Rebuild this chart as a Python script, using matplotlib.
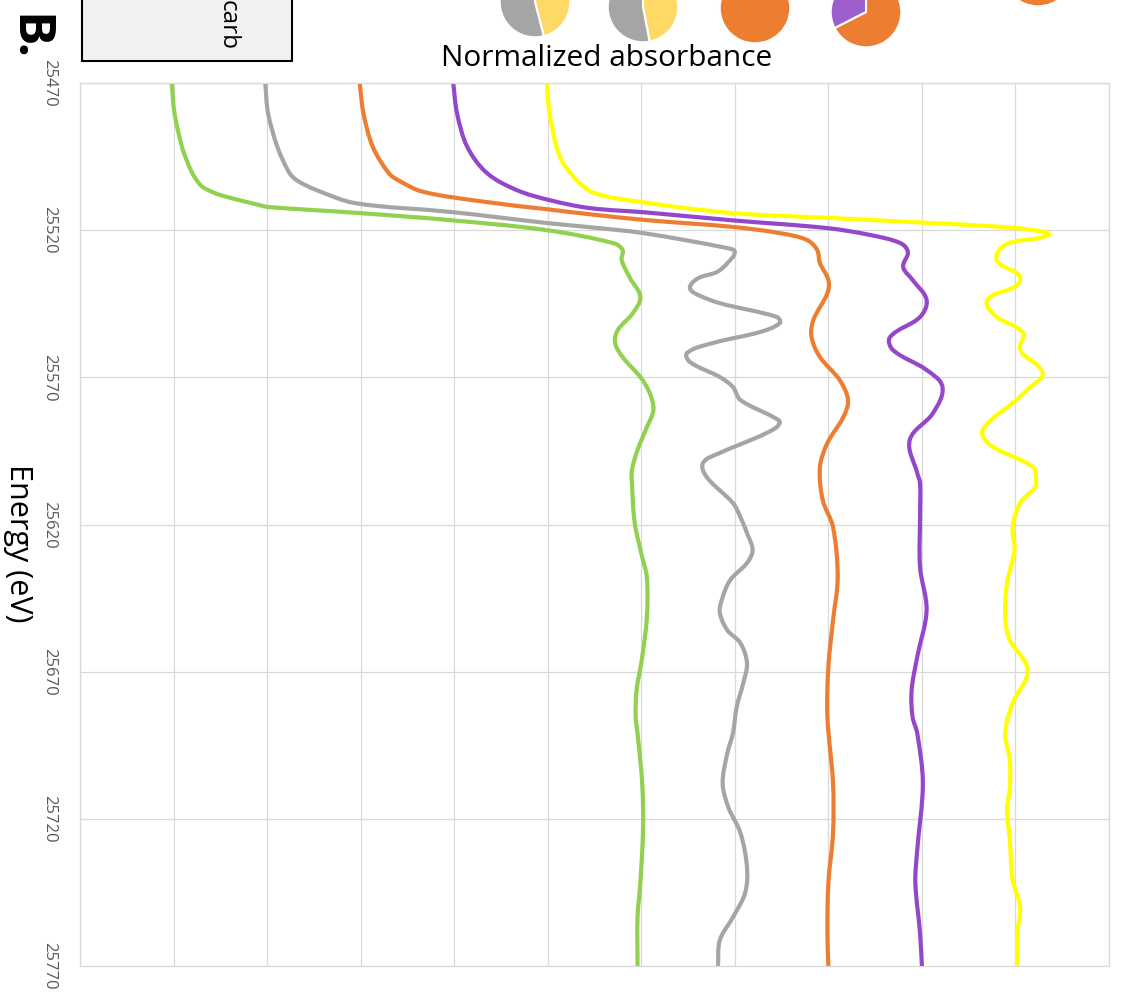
import numpy as np
import matplotlib.pyplot as plt
from matplotlib.patches import Rectangle, PathPatch
from matplotlib.path import Path

W, H = 1128, 1002

energy_ticks = [25470, 25520, 25570, 25620, 25670, 25720, 25770]

green_energy = [25470, 25480.2, 25491.7, 25496.2, 25500.6, 25503.6, 25505.3, 25507.4, 25508.7, 25510.1,
                25511.5, 25512.1, 25514.2, 25516.6, 25520.0, 25524.4, 25526.7, 25530.1, 25536.3, 25542.7,
                25548.2, 25553.9, 25558.3, 25563.1, 25569.9, 25575.3, 25581.1, 25586.9, 25594.7, 25601.5,
                25605.9, 25619.5, 25631.1, 25637.9, 25651.5, 25665.0, 25676.3, 25685.4, 25690.9, 25707.9,
                25722.8, 25741.8, 25753.4, 25770]
green_abs = [0.98, 1.01, 1.09, 1.14, 1.20, 1.26, 1.31, 1.44, 1.57, 1.74,
             1.92, 2.00, 2.99, 3.96, 4.99, 5.70, 5.80, 5.79, 5.88, 5.99,
             5.91, 5.75, 5.72, 5.80, 5.99, 6.09, 6.13, 6.06, 5.96, 5.90,
             5.90, 5.93, 6.01, 6.06, 6.06, 6.01, 5.95, 5.94, 5.96, 6.01,
             6.02, 5.99, 5.96, 5.96]

grey_energy = [25470, 25480.2, 25491.7, 25500.6, 25503.3, 25506.4, 25510.8, 25513.8, 25517.6, 25519.0,
               25521.0, 25526.1, 25527.4, 25531.2, 25534.2, 25536.3, 25539.3, 25541.4, 25544.8, 25549.5,
               25551.6, 25554.6, 25558.3, 25561.7, 25564.8, 25569.9, 25573.3, 25577.7, 25583.5, 25585.5,
               25588.9, 25595.7, 25599.1, 25603.9, 25612.7, 25617.5, 25622.9, 25628.7, 25633.1, 25638.9,
               25645.7, 25650.1, 25655.9, 25660.3, 25667.1, 25673.9, 25682.0, 25690.9, 25697.7, 25707.9,
               25716.0, 25724.8, 25736.4, 25745.2, 25753.4, 25761.2, 25770]
grey_abs = [1.98, 2.01, 2.11, 2.24, 2.33, 2.53, 2.94, 3.96, 5.00, 5.45,
            6.02, 6.92, 7.00, 6.92, 6.81, 6.61, 6.52, 6.57, 6.84, 7.45,
            7.48, 7.27, 6.77, 6.49, 6.52, 6.84, 6.98, 7.06, 7.41, 7.48,
            7.34, 6.84, 6.66, 6.70, 6.98, 7.06, 7.13, 7.19, 7.13, 6.95,
            6.86, 6.84, 6.92, 7.06, 7.13, 7.09, 7.02, 6.98, 6.92, 6.87,
            6.93, 7.06, 7.13, 7.11, 6.98, 6.84, 6.82]

orange_energy = [25470, 25480.2, 25491.7, 25500.6, 25503.0, 25506.9, 25510.3, 25513.0, 25514.6, 25516.6,
                 25518.9, 25521.0, 25523.3, 25526.7, 25531.2, 25536.9, 25541.4, 25550.5, 25556.3, 25563.1,
                 25570.9, 25577.7, 25583.5, 25592.3, 25600.5, 25611.7, 25620.9, 25637.9, 25652.5, 25668.4,
                 25685.4, 25707.9, 25724.8, 25741.8, 25758.8, 25770]
orange_abs = [2.99, 3.03, 3.13, 3.30, 3.40, 3.66, 4.31, 5.02, 5.45, 6.06,
              6.98, 7.48, 7.77, 7.88, 7.91, 8.00, 7.99, 7.84, 7.82, 7.91,
              8.12, 8.21, 8.16, 7.99, 7.91, 7.94, 8.05, 8.10, 8.05, 8.00,
              7.99, 8.05, 8.05, 8.00, 7.99, 8.00]

purple_energy = [25470, 25480.2, 25491.7, 25500.6, 25506.4, 25509.8, 25512.5, 25514.0, 25516.6, 25519.3,
                 25521.6, 25524.4, 25527.4, 25532.5, 25536.9, 25543.7, 25549.5, 25556.3, 25560.7, 25567.5,
                 25573.3, 25582.1, 25591.3, 25602.5, 25605.9, 25617.5, 25634.5, 25649.1, 25665.0, 25676.3,
                 25685.4, 25690.9, 25707.9, 25730.6, 25741.8, 25758.8, 25770]
purple_abs = [3.99, 4.03, 4.14, 4.35, 4.67, 5.02, 5.45, 6.06, 6.95, 7.99,
              8.44, 8.77, 8.85, 8.80, 8.90, 9.05, 8.98, 8.66, 8.69, 9.05,
              9.22, 9.12, 8.87, 8.95, 8.98, 8.98, 8.98, 9.05, 8.95, 8.89,
              8.90, 8.95, 9.01, 8.95, 8.93, 8.98, 9.00]

yellow_energy = [25470, 25480.2, 25495.1, 25503.0, 25507.4, 25510.4, 25514.2, 25515.9, 25517.6, 25518.9,
                 25520.0, 25521.6, 25524.8, 25530.1, 25536.9, 25543.7, 25549.0, 25554.9, 25560.7, 25568.5,
                 25573.3, 25578.7, 25587.9, 25593.0, 25600.5, 25604.5, 25607.3, 25612.7, 25620.9, 25628.7,
                 25639.9, 25651.5, 25659.3, 25669.5, 25680.7, 25690.9, 25700.0, 25709.2, 25717.0, 25727.2,
                 25740.8, 25750.0, 25758.8, 25770]
yellow_abs = [4.99, 5.02, 5.13, 5.31, 5.50, 5.99, 6.98, 8.05, 9.12, 9.85,
              10.19, 10.35, 9.90, 9.80, 10.05, 9.70, 9.78, 10.08, 10.05, 10.29,
              10.16, 9.97, 9.65, 9.73, 10.19, 10.22, 10.21, 10.05, 9.97, 9.99,
              9.91, 9.89, 9.94, 10.13, 9.97, 9.89, 9.94, 9.94, 9.91, 9.94,
              9.97, 10.05, 10.02, 10.02]

# composition pies along the top edge (cropped in the source figure)
pie_fractions = [[0.46, 0.54], [0.47, 0.53], [1.0], [0.675, 0.325], [1.0]]
pie_colors = [['#ffd966', '#a5a5a5'], ['#ffd966', '#a5a5a5'], ['#ed7d31'],
              ['#ed7d31', '#9e5ecb'], ['#ed7d31']]


def px_to_fig(x, y):
    return x / W, 1 - y / H


def smooth_line(ax, xs, ys, color, lw):
    # bezier through the read points, handles sized to each segment so it never loops
    pts = ax.transData.transform(np.column_stack([xs, ys]))
    n = len(pts)
    verts, codes = [pts[0]], [Path.MOVETO]
    for i in range(n - 1):
        p0, p1, p2, p3 = pts[max(i - 1, 0)], pts[i], pts[i + 1], pts[min(i + 2, n - 1)]
        d = np.linalg.norm(p2 - p1)
        t1 = (p2 - p0) / (np.linalg.norm(p2 - p0) or 1)
        t2 = (p3 - p1) / (np.linalg.norm(p3 - p1) or 1)
        verts += [p1 + t1 * d / 3, p2 - t2 * d / 3, p2]
        codes += [Path.CURVE4] * 3
    verts = ax.transData.inverted().transform(np.array(verts))
    ax.add_patch(PathPatch(Path(verts, codes), fill=False, edgecolor=color, lw=lw,
                           capstyle='round', joinstyle='round'))


def add_pie(fracs, colors, cx, cy, r=36):
    ax = plt.gcf().add_axes([(cx - r) / W, 1 - (cy + r) / H, 2 * r / W, 2 * r / H])
    ax.pie(fracs, colors=colors, startangle=90, counterclock=False,
           wedgeprops=dict(edgecolor='white', linewidth=1.5))
    ax.set_xlim(-1.02, 1.02)
    ax.set_ylim(-1.02, 1.02)
    ax.set_aspect('equal')
    ax.axis('off')


def plot_xanes():
    plt.rcParams['font.family'] = ['Open Sans', 'DejaVu Sans']
    fig = plt.figure(figsize=(W / 100, H / 100), dpi=100)
    ax = fig.add_axes([80 / W, 1 - 966 / H, (1109 - 80) / W, (966 - 83) / H])

    ax.set_xlim(0, 11)
    ax.set_ylim(25770, 25470)

    lw = 3
    smooth_line(ax, green_abs, green_energy, '#92d050', lw)
    smooth_line(ax, grey_abs, grey_energy, '#a5a5a5', lw)
    smooth_line(ax, orange_abs, orange_energy, '#ed7d31', lw)
    smooth_line(ax, purple_abs, purple_energy, '#9447c9', lw)
    smooth_line(ax, yellow_abs, yellow_energy, '#ffff00', lw)

    ax.set_xticks(range(12))
    ax.set_xticklabels([])
    ax.set_yticks(energy_ticks)
    ax.set_yticklabels([str(e) for e in energy_ticks], rotation=-90, va='center', ha='center')
    ax.tick_params(axis='both', length=0, colors='#595959', labelsize=12)
    ax.tick_params(axis='y', pad=22)
    ax.grid(True, color='#d9d9d9', lw=0.9)
    ax.set_axisbelow(True)
    for s in ax.spines.values():
        s.set_color('#d9d9d9')
        s.set_linewidth(0.9)

    fig.text(*px_to_fig(18, 543), 'Energy (eV)', rotation=-90, fontsize=22,
             ha='center', va='center', color='black')
    fig.text(*px_to_fig(607, 59), 'Normalized absorbance', fontsize=21.5,
             ha='center', va='center', color='black')

    # cropped legend box
    x0, y0 = px_to_fig(82, 61)
    fig.patches.append(Rectangle((x0, y0), 210 / W, 0.2, transform=fig.transFigure,
                                 facecolor='#f2f2f2', edgecolor='black', lw=1.5))
    fig.text(*px_to_fig(228, 50), 'carb', rotation=-90, fontsize=17.5, ha='center', va='bottom')
    # panel letter: baseline on the left, reading downwards
    fig.text(*px_to_fig(14, 14), 'B.', rotation=-90, rotation_mode='anchor', fontsize=37,
             fontweight='bold', ha='left', va='baseline')

    centers = [(535, 2), (643, 7), (755, 8), (866, 12), (1038, -29)]
    for fracs, colors, (cx, cy) in zip(pie_fractions, pie_colors, centers):
        add_pie(fracs, colors, cx, cy)

    fig.savefig('out.png', dpi=100)


if __name__ == "__main__":
    plot_xanes()
